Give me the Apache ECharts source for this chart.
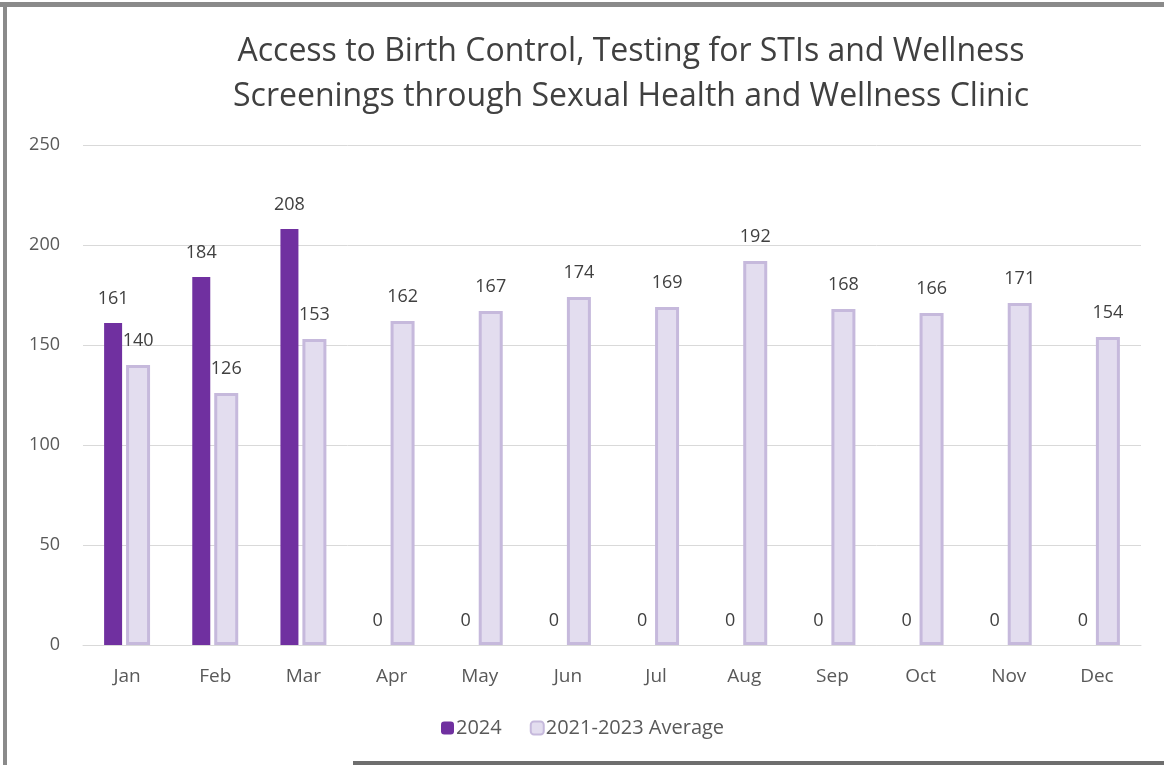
<!DOCTYPE html>
<html>
<head>
<meta charset="utf-8">
<script src="https://cdn.jsdelivr.net/npm/echarts@6/dist/echarts.min.js"></script>
<style>
html,body{margin:0;padding:0;background:#fff;}
#chart{width:1164px;height:765px;}
</style>
</head>
<body>
<div id="chart"></div>
<script>
var months = ['Jan','Feb','Mar','Apr','May','Jun','Jul','Aug','Sep','Oct','Nov','Dec'];
var values2024 = [161,184,208,0,0,0,0,0,0,0,0,0];
var valuesAvg = [140,126,153,162,167,174,169,192,168,166,171,154];
var yTicks = [0,50,100,150,200,250];
var titleText = 'Access to Birth Control, Testing for STIs and Wellness\nScreenings through Sexual Health and Wellness Clinic';

var chart = echarts.init(document.getElementById('chart'), null, {renderer:'canvas'});
var font = '"Open Sans", "Noto Sans", sans-serif';
chart.setOption({
  animation:false,
  backgroundColor:'#fff',
  title:{
    text:titleText,
    left:626, top:24, textAlign:'center',
    textStyle:{fontFamily:font, fontSize:32, fontWeight:'normal', color:'#404040', lineHeight:45}
  },
  legend:{
    bottom:22, left:436,
    itemWidth:13, itemHeight:13, itemGap:28,
    textStyle:{fontFamily:font, fontSize:20, color:'#595959', padding:[0,0,0,-3]},
    data:['2024','2021-2023 Average']
  },
  grid:{left:83, right:23, top:145, bottom:120},
  xAxis:{
    type:'category', data:months,
    axisLine:{lineStyle:{color:'#d9d9d9', width:1}},
    axisTick:{show:false},
    axisLabel:{fontFamily:font, fontSize:19, color:'#595959', margin:22}
  },
  yAxis:{
    type:'value', min:yTicks[0], max:yTicks[yTicks.length-1], interval:50,
    axisLine:{show:false}, axisTick:{show:false},
    splitLine:{lineStyle:{color:'#d9d9d9', width:1}},
    axisLabel:{fontFamily:font, fontSize:18, color:'#595959', margin:23}
  },
  series:[
    {
      name:'2024', type:'bar', data:values2024,
      barWidth:18, barGap:'22%',
      itemStyle:{color:'#7030a0'},
      label:{show:true, position:'top', distance:15, fontFamily:font, fontSize:18, color:'#404040'}
    },
    {
      name:'2021-2023 Average', type:'bar', data:valuesAvg,
      barWidth:24,
      itemStyle:{color:'#e3ddef', borderColor:'#c6b9dc', borderWidth:3},
      label:{show:true, position:'top', distance:15, fontFamily:font, fontSize:18, color:'#404040'}
    }
  ],
  graphic:[
    {type:'rect', shape:{x:0,y:2,width:1164,height:5}, style:{fill:'#8a8a8a'}},
    {type:'rect', shape:{x:3,y:2,width:4,height:763}, style:{fill:'#8a8a8a'}},
    {type:'rect', shape:{x:353,y:761,width:811,height:4}, style:{fill:'#6e6e6e'}}
  ]
});
</script>
</body>
</html>
